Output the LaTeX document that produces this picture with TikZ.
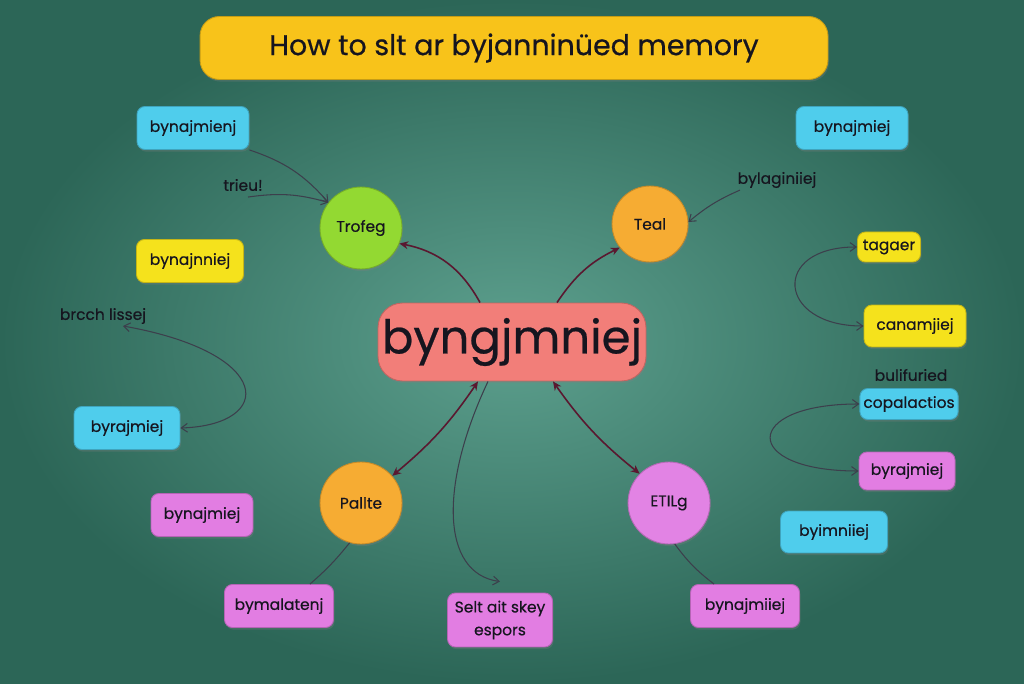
\documentclass[tikz,border=0pt]{standalone}
\usepackage{fontspec}
\setmainfont{Poppins}[FakeBold=0.5]
\usetikzlibrary{arrows.meta,shadows}

\definecolor{bgin}{HTML}{5DA08E}
\definecolor{bgout}{HTML}{2C6657}
\definecolor{inkc}{HTML}{16151F}
\definecolor{ttlc}{HTML}{F8C31A}
\definecolor{cyanc}{HTML}{4FCDEC}
\definecolor{yelc}{HTML}{F5E21C}
\definecolor{magc}{HTML}{E27DE2}
\definecolor{limec}{HTML}{93D932}
\definecolor{orac}{HTML}{F6AC33}
\definecolor{violc}{HTML}{E283E4}
\definecolor{salc}{HTML}{F27E79}
\definecolor{linkc}{HTML}{5A1830}
\definecolor{hintc}{HTML}{3C3F4C}

\begin{document}
\begin{tikzpicture}[x=0.02cm,y=0.02cm,
        every node/.style={text=inkc},
        box/.style={rounded corners=4.5pt, fill=#1, draw=#1!80!black, line width=0.5pt,
            minimum height=0.86cm, inner sep=2pt, font=\fontsize{8.8}{11}\selectfont,
            drop shadow={opacity=0.3, shadow xshift=0.6pt, shadow yshift=-1.2pt}},
        blob/.style={circle, fill=#1, draw=#1!80!black, line width=0.5pt,
            minimum size=1.64cm, inner sep=0pt, font=\fontsize{8.8}{11}\selectfont,
            drop shadow={opacity=0.3, shadow xshift=0.6pt, shadow yshift=-1.2pt}},
        note/.style={inner sep=1pt, font=\fontsize{8.8}{11}\selectfont},
        mainlink/.style={color=linkc, line width=0.9pt, >={Stealth[length=5pt,width=4.5pt]}},
        sidelink/.style={color=hintc, line width=0.6pt, >={Straight Barb[length=3.5pt,width=5pt]}}
    ]
    \useasboundingbox (0,0) rectangle (1024,683);
    \shade[inner color=bgin, outer color=bgout] (0,0) rectangle (1024,683);

    % title
    \node[box=ttlc, minimum width=12.56cm, minimum height=1.26cm, rounded corners=11pt,
        font=\fontsize{16.2}{20}\selectfont] (title) at (514,635) {How to slt ar byjanninüed memory};

    % centre
    \node[box=salc, minimum width=5.36cm, minimum height=1.56cm, rounded corners=14pt,
        font=\fontsize{26.5}{32}\selectfont] (core) at (512,341) {byngjmniej};

    % circles
    \node[blob=limec] (trofeg) at (361,455) {Trofeg};
    \node[blob=orac, minimum size=1.52cm] (teal) at (650,459) {Teal};
    \node[blob=orac] (pallte) at (361,180) {Pallte};
    \node[blob=violc] (etilg) at (669,180) {ETILg};

    % boxes, left
    \node[box=cyanc, minimum width=2.24cm] (tlcyan) at (193,555) {bynajmienj};
    \node[box=yelc, minimum width=2.14cm] (ylwleft) at (190,422) {bynajnniej};
    \node[box=cyanc, minimum width=2.12cm] (byrajleft) at (127,255) {byrajmiej};
    \node[box=magc, minimum width=2.04cm] (bynajmag) at (202,168) {bynajmiej};
    \node[box=magc, minimum width=2.18cm] (bymal) at (279,77) {bymalatenj};
    \node[box=magc, minimum width=2.1cm, minimum height=1.08cm, align=center,
        font=\fontsize{8.8}{13}\selectfont] (selt) at (500,63) {Selt ait skey\\espors};

    % boxes, right
    \node[box=cyanc, minimum width=2.24cm] (trcyan) at (852,555) {bynajmiej};
    \node[box=yelc, minimum width=1.26cm, minimum height=0.6cm] (tagaer) at (889,436) {tagaer};
    \node[box=yelc, minimum width=2.04cm, minimum height=0.84cm] (canam) at (915,357) {canamjiej};
    \node[box=cyanc, minimum width=1.84cm, minimum height=0.62cm] (copal) at (909,279) {copalactios};
    \node[box=magc, minimum width=1.92cm, minimum height=0.76cm] (byrajright) at (907,212) {byrajmiej};
    \node[box=cyanc, minimum width=2.14cm, minimum height=0.84cm] (byimn) at (834,151) {byimniiej};
    \node[box=magc, minimum width=2.18cm] (bynajmiiej) at (745,77) {bynajmiiej};

    % loose labels
    \node[note] (trieu) at (243,498) {trieu!};
    \node[note] (bylag) at (777,503) {bylaginiiej};
    \node[note] (bulif) at (911,308) {bulifuried};
    \node[note] (brcch) at (103,367) {brcch lissej};

    % links from the centre
    \path[mainlink,->] ([xshift=-0.64cm]core.north) edge[bend right=25] (trofeg.-22)
        ([xshift=0.9cm]core.north) edge[bend left=15] (teal.218);
    \path[mainlink,<->] ([xshift=-0.68cm]core.south) edge[bend left=8] (pallte.41)
        ([xshift=0.82cm]core.south) edge[bend right=8] (etilg.135);
    \draw[sidelink,->] ([xshift=-0.48cm]core.south) .. controls (440,200) and (440,110) .. ([yshift=0.22cm]selt.north);

    % side links
    \path[sidelink,->] (tlcyan.south east) edge[bend left=15] (trofeg.142)
        ([xshift=0.1cm,yshift=-0.08cm]trieu.south) edge[bend left=12] (trofeg.142)
        ([xshift=-0.74cm]bylag.south) edge[bend right=8] (teal.3);
    \path[sidelink,<->] (tagaer.west) edge[out=180, in=180, looseness=2.8] (canam.west)
        (copal.west) edge[out=180, in=180, looseness=4.5] (byrajright.west);
    \draw[sidelink,<->] (byrajleft.east) .. controls (275,258) and (275,330) .. ([xshift=0.4cm]brcch.south);
    \path[sidelink] (pallte.254) edge[bend left=5] ([xshift=0.62cm]bymal.north)
        (etilg.278) edge[bend right=8] ([xshift=-0.62cm]bynajmiiej.north);
\end{tikzpicture}
\end{document}
